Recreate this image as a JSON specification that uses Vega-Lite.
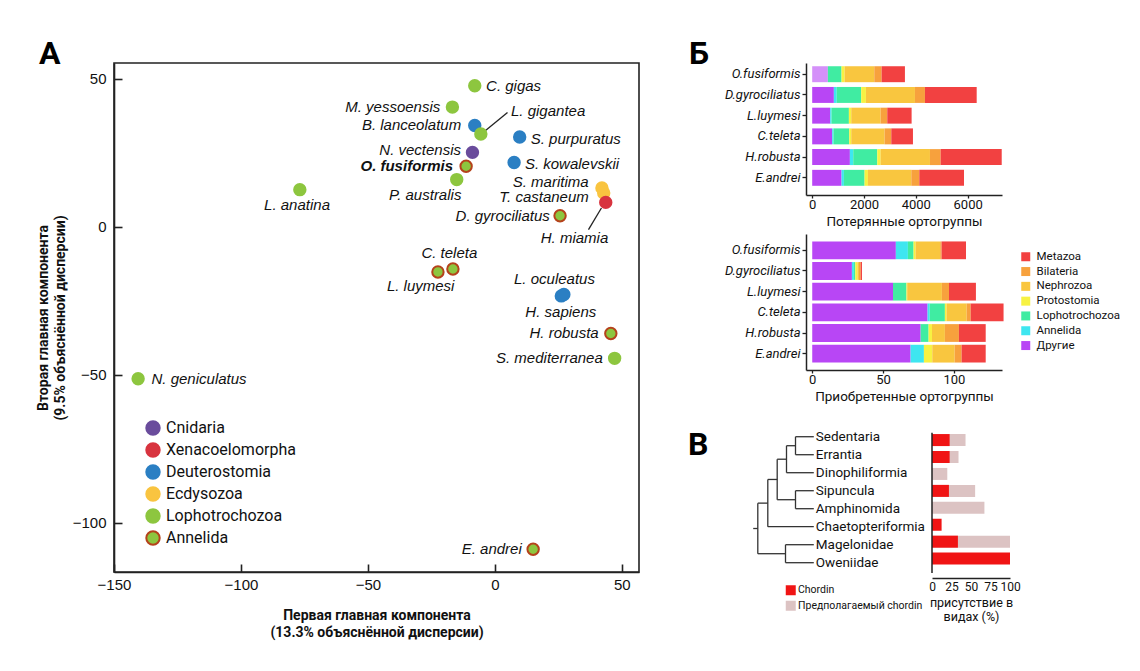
{
  "$schema": "https://vega.github.io/schema/vega-lite/v6.json",
  "background": "white",
  "padding": {"left": 35, "top": 37, "right": 5, "bottom": 5},
  "bounds": "flush",
  "spacing": 167,
  "config": {
    "view": {"stroke": null},
    "font": "Roboto",
    "axis": {"domainColor": "#222", "tickColor": "#222", "labelColor": "#111", "titleColor": "#111", "grid": false}
  },
  "resolve": {
    "scale": {"color": "independent", "fill": "independent", "stroke": "independent"},
    "legend": {"color": "independent", "fill": "independent", "stroke": "independent"}
  },
  "datasets": {
    "pca": [
      {"name": "C. gigas", "group": "Lophotrochozoa", "x": -7.9, "y": 47.6, "lx": 7.4, "ly": 47.6},
      {"name": "M. yessoensis", "group": "Lophotrochozoa", "x": -16.7, "y": 40.4, "lx": -40.2, "ly": 40.4},
      {"name": "B. lanceolatum", "group": "Deuterostomia", "x": -7.9, "y": 34.2, "lx": -32.8, "ly": 34.2},
      {"name": "L. gigantea", "group": "Lophotrochozoa", "x": -5.5, "y": 31.3, "lx": 21.0, "ly": 39.0},
      {"name": "S. purpuratus", "group": "Deuterostomia", "x": 9.8, "y": 30.3, "lx": 31.9, "ly": 29.6},
      {"name": "N. vectensis", "group": "Cnidaria", "x": -8.8, "y": 25.1, "lx": -29.4, "ly": 25.8},
      {"name": "S. kowalevskii", "group": "Deuterostomia", "x": 7.6, "y": 21.7, "lx": 30.4, "ly": 21.3},
      {"name": "O. fusiformis", "group": "Annelida", "x": -11.3, "y": 20.4, "lx": -34.7, "ly": 20.4},
      {"name": "P. australis", "group": "Lophotrochozoa", "x": -15.0, "y": 15.9, "lx": -27.4, "ly": 10.8},
      {"name": "S. maritima", "group": "Ecdysozoa", "x": 42.2, "y": 13.1, "lx": 22.0, "ly": 15.2},
      {"name": "T. castaneum", "group": "Ecdysozoa", "x": 42.9, "y": 11.4, "lx": 19.4, "ly": 10.0},
      {"name": "H. miamia", "group": "Xenacoelomorpha", "x": 43.7, "y": 8.2, "lx": 31.4, "ly": -3.8},
      {"name": "L. anatina", "group": "Lophotrochozoa", "x": -76.8, "y": 12.5, "lx": -77.9, "ly": 7.2},
      {"name": "D. gyrociliatus", "group": "Annelida", "x": 25.7, "y": 3.7, "lx": 3.1, "ly": 3.7},
      {"name": "C. teleta", "group": "Annelida", "x": -16.5, "y": -14.3, "lx": -17.9, "ly": -8.8},
      {"name": "L. luymesi", "group": "Annelida", "x": -22.4, "y": -15.3, "lx": -29.2, "ly": -20.1},
      {"name": "L. oculeatus", "group": "Deuterostomia", "x": 26.2, "y": -23.4, "lx": 23.5, "ly": -17.6},
      {"name": "H. sapiens", "group": "Deuterostomia", "x": 27.2, "y": -22.9, "lx": 26.0, "ly": -28.9},
      {"name": "H. robusta", "group": "Annelida", "x": 45.7, "y": -36.1, "lx": 27.3, "ly": -36.1},
      {"name": "S. mediterranea", "group": "Lophotrochozoa", "x": 47.2, "y": -44.5, "lx": 21.5, "ly": -44.5},
      {"name": "N. geniculatus", "group": "Lophotrochozoa", "x": -140.5, "y": -51.4, "lx": -116.5, "ly": -51.4},
      {"name": "E. andrei", "group": "Annelida", "x": 15.1, "y": -109.0, "lx": -1.2, "ly": -109.0}
    ],
    "leaders": [
      {"x": -4.0, "y": 32.2, "x2": 5.0, "y2": 38.6},
      {"x": 42.0, "y": 6.3, "x2": 36.9, "y2": -1.0}
    ],
    "lost": [
      {"sp": "O.fusiformis", "cat": "Другие", "level": 1, "n": 605},
      {"sp": "O.fusiformis", "cat": "Annelida", "level": 2, "n": 0},
      {"sp": "O.fusiformis", "cat": "Lophotrochozoa", "level": 3, "n": 528},
      {"sp": "O.fusiformis", "cat": "Protostomia", "level": 4, "n": 117},
      {"sp": "O.fusiformis", "cat": "Nephrozoa", "level": 5, "n": 1146},
      {"sp": "O.fusiformis", "cat": "Bilateria", "level": 6, "n": 284},
      {"sp": "O.fusiformis", "cat": "Metazoa", "level": 7, "n": 900},
      {"sp": "D.gyrociliatus", "cat": "Другие", "level": 1, "n": 837},
      {"sp": "D.gyrociliatus", "cat": "Annelida", "level": 2, "n": 110},
      {"sp": "D.gyrociliatus", "cat": "Lophotrochozoa", "level": 3, "n": 946},
      {"sp": "D.gyrociliatus", "cat": "Protostomia", "level": 4, "n": 181},
      {"sp": "D.gyrociliatus", "cat": "Nephrozoa", "level": 5, "n": 1893},
      {"sp": "D.gyrociliatus", "cat": "Bilateria", "level": 6, "n": 386},
      {"sp": "D.gyrociliatus", "cat": "Metazoa", "level": 7, "n": 1997},
      {"sp": "L.luymesi", "cat": "Другие", "level": 1, "n": 696},
      {"sp": "L.luymesi", "cat": "Annelida", "level": 2, "n": 51},
      {"sp": "L.luymesi", "cat": "Lophotrochozoa", "level": 3, "n": 670},
      {"sp": "L.luymesi", "cat": "Protostomia", "level": 4, "n": 90},
      {"sp": "L.luymesi", "cat": "Nephrozoa", "level": 5, "n": 1133},
      {"sp": "L.luymesi", "cat": "Bilateria", "level": 6, "n": 258},
      {"sp": "L.luymesi", "cat": "Metazoa", "level": 7, "n": 940},
      {"sp": "C.teleta", "cat": "Другие", "level": 1, "n": 773},
      {"sp": "C.teleta", "cat": "Annelida", "level": 2, "n": 51},
      {"sp": "C.teleta", "cat": "Lophotrochozoa", "level": 3, "n": 606},
      {"sp": "C.teleta", "cat": "Protostomia", "level": 4, "n": 77},
      {"sp": "C.teleta", "cat": "Nephrozoa", "level": 5, "n": 1288},
      {"sp": "C.teleta", "cat": "Bilateria", "level": 6, "n": 258},
      {"sp": "C.teleta", "cat": "Metazoa", "level": 7, "n": 837},
      {"sp": "H.robusta", "cat": "Другие", "level": 1, "n": 1455},
      {"sp": "H.robusta", "cat": "Annelida", "level": 2, "n": 129},
      {"sp": "H.robusta", "cat": "Lophotrochozoa", "level": 3, "n": 928},
      {"sp": "H.robusta", "cat": "Protostomia", "level": 4, "n": 128},
      {"sp": "H.robusta", "cat": "Nephrozoa", "level": 5, "n": 1906},
      {"sp": "H.robusta", "cat": "Bilateria", "level": 6, "n": 413},
      {"sp": "H.robusta", "cat": "Metazoa", "level": 7, "n": 2357},
      {"sp": "E.andrei", "cat": "Другие", "level": 1, "n": 1133},
      {"sp": "E.andrei", "cat": "Annelida", "level": 2, "n": 91},
      {"sp": "E.andrei", "cat": "Lophotrochozoa", "level": 3, "n": 798},
      {"sp": "E.andrei", "cat": "Protostomia", "level": 4, "n": 129},
      {"sp": "E.andrei", "cat": "Nephrozoa", "level": 5, "n": 1674},
      {"sp": "E.andrei", "cat": "Bilateria", "level": 6, "n": 309},
      {"sp": "E.andrei", "cat": "Metazoa", "level": 7, "n": 1726}
    ],
    "gained": [
      {"sp": "O.fusiformis", "cat": "Другие", "level": 1, "n": 59},
      {"sp": "O.fusiformis", "cat": "Annelida", "level": 2, "n": 8.5},
      {"sp": "O.fusiformis", "cat": "Lophotrochozoa", "level": 3, "n": 4},
      {"sp": "O.fusiformis", "cat": "Protostomia", "level": 4, "n": 1.4},
      {"sp": "O.fusiformis", "cat": "Nephrozoa", "level": 5, "n": 17.4},
      {"sp": "O.fusiformis", "cat": "Bilateria", "level": 6, "n": 1},
      {"sp": "O.fusiformis", "cat": "Metazoa", "level": 7, "n": 17.2},
      {"sp": "D.gyrociliatus", "cat": "Другие", "level": 1, "n": 28},
      {"sp": "D.gyrociliatus", "cat": "Annelida", "level": 2, "n": 1.4},
      {"sp": "D.gyrociliatus", "cat": "Lophotrochozoa", "level": 3, "n": 1},
      {"sp": "D.gyrociliatus", "cat": "Protostomia", "level": 4, "n": 1.5},
      {"sp": "D.gyrociliatus", "cat": "Nephrozoa", "level": 5, "n": 1.1},
      {"sp": "D.gyrociliatus", "cat": "Bilateria", "level": 6, "n": 1.2},
      {"sp": "D.gyrociliatus", "cat": "Metazoa", "level": 7, "n": 0.9},
      {"sp": "L.luymesi", "cat": "Другие", "level": 1, "n": 57},
      {"sp": "L.luymesi", "cat": "Annelida", "level": 2, "n": 0},
      {"sp": "L.luymesi", "cat": "Lophotrochozoa", "level": 3, "n": 9.5},
      {"sp": "L.luymesi", "cat": "Protostomia", "level": 4, "n": 0.5},
      {"sp": "L.luymesi", "cat": "Nephrozoa", "level": 5, "n": 24.5},
      {"sp": "L.luymesi", "cat": "Bilateria", "level": 6, "n": 5},
      {"sp": "L.luymesi", "cat": "Metazoa", "level": 7, "n": 19},
      {"sp": "C.teleta", "cat": "Другие", "level": 1, "n": 81.4},
      {"sp": "C.teleta", "cat": "Annelida", "level": 2, "n": 1.5},
      {"sp": "C.teleta", "cat": "Lophotrochozoa", "level": 3, "n": 10.7},
      {"sp": "C.teleta", "cat": "Protostomia", "level": 4, "n": 1.2},
      {"sp": "C.teleta", "cat": "Nephrozoa", "level": 5, "n": 14.2},
      {"sp": "C.teleta", "cat": "Bilateria", "level": 6, "n": 2.8},
      {"sp": "C.teleta", "cat": "Metazoa", "level": 7, "n": 23.2},
      {"sp": "H.robusta", "cat": "Другие", "level": 1, "n": 76.5},
      {"sp": "H.robusta", "cat": "Annelida", "level": 2, "n": 0},
      {"sp": "H.robusta", "cat": "Lophotrochozoa", "level": 3, "n": 5.6},
      {"sp": "H.robusta", "cat": "Protostomia", "level": 4, "n": 2.4},
      {"sp": "H.robusta", "cat": "Nephrozoa", "level": 5, "n": 9.1},
      {"sp": "H.robusta", "cat": "Bilateria", "level": 6, "n": 9.9},
      {"sp": "H.robusta", "cat": "Metazoa", "level": 7, "n": 18.9},
      {"sp": "E.andrei", "cat": "Другие", "level": 1, "n": 69.4},
      {"sp": "E.andrei", "cat": "Annelida", "level": 2, "n": 9.4},
      {"sp": "E.andrei", "cat": "Lophotrochozoa", "level": 3, "n": 0},
      {"sp": "E.andrei", "cat": "Protostomia", "level": 4, "n": 5.9},
      {"sp": "E.andrei", "cat": "Nephrozoa", "level": 5, "n": 15.8},
      {"sp": "E.andrei", "cat": "Bilateria", "level": 6, "n": 4.9},
      {"sp": "E.andrei", "cat": "Metazoa", "level": 7, "n": 17}
    ],
    "tree": [
      {"x": 42.3, "y": 0, "x2": 60.6, "y2": 0},
      {"x": 42.3, "y": 1, "x2": 60.6, "y2": 1},
      {"x": 42.3, "y": 0, "x2": 42.3, "y2": 1},
      {"x": 33.3, "y": 0.5, "x2": 42.3, "y2": 0.5},
      {"x": 33.3, "y": 2, "x2": 60.6, "y2": 2},
      {"x": 33.3, "y": 0.5, "x2": 33.3, "y2": 2},
      {"x": 24, "y": 1.25, "x2": 33.3, "y2": 1.25},
      {"x": 42.3, "y": 3, "x2": 60.6, "y2": 3},
      {"x": 42.3, "y": 4, "x2": 60.6, "y2": 4},
      {"x": 42.3, "y": 3, "x2": 42.3, "y2": 4},
      {"x": 24, "y": 3.5, "x2": 42.3, "y2": 3.5},
      {"x": 24, "y": 1.25, "x2": 24, "y2": 3.5},
      {"x": 14.6, "y": 2.375, "x2": 24, "y2": 2.375},
      {"x": 14.6, "y": 5, "x2": 60.6, "y2": 5},
      {"x": 14.6, "y": 2.375, "x2": 14.6, "y2": 5},
      {"x": 4.6, "y": 3.69, "x2": 14.6, "y2": 3.69},
      {"x": 32.3, "y": 6, "x2": 60.6, "y2": 6},
      {"x": 32.3, "y": 7, "x2": 60.6, "y2": 7},
      {"x": 32.3, "y": 6, "x2": 32.3, "y2": 7},
      {"x": 4.6, "y": 6.5, "x2": 32.3, "y2": 6.5},
      {"x": 4.6, "y": 3.69, "x2": 4.6, "y2": 6.5},
      {"x": 0, "y": 5.1, "x2": 4.6, "y2": 5.1}
    ],
    "clades": [
      {"clade": "Sedentaria", "idx": 0},
      {"clade": "Errantia", "idx": 1},
      {"clade": "Dinophiliformia", "idx": 2},
      {"clade": "Sipuncula", "idx": 3},
      {"clade": "Amphinomida", "idx": 4},
      {"clade": "Chaetopteriformia", "idx": 5},
      {"clade": "Magelonidae", "idx": 6},
      {"clade": "Oweniidae", "idx": 7}
    ],
    "chordin": [
      {"clade": "Sedentaria", "idx": 0, "type": "Предполагаемый chordin", "v": 43},
      {"clade": "Errantia", "idx": 1, "type": "Предполагаемый chordin", "v": 34},
      {"clade": "Dinophiliformia", "idx": 2, "type": "Предполагаемый chordin", "v": 19.6},
      {"clade": "Sipuncula", "idx": 3, "type": "Предполагаемый chordin", "v": 55.3},
      {"clade": "Amphinomida", "idx": 4, "type": "Предполагаемый chordin", "v": 67.2},
      {"clade": "Magelonidae", "idx": 6, "type": "Предполагаемый chordin", "v": 100},
      {"clade": "Sedentaria", "idx": 0, "type": "Chordin", "v": 22.6},
      {"clade": "Errantia", "idx": 1, "type": "Chordin", "v": 22.6},
      {"clade": "Sipuncula", "idx": 3, "type": "Chordin", "v": 21.7},
      {"clade": "Chaetopteriformia", "idx": 5, "type": "Chordin", "v": 12.3},
      {"clade": "Magelonidae", "idx": 6, "type": "Chordin", "v": 33.2},
      {"clade": "Oweniidae", "idx": 7, "type": "Chordin", "v": 100}
    ]
  },
  "hconcat": [
    {
      "width": 525,
      "height": 509,
      "view": {"stroke": "#222", "strokeWidth": 1.6},
      "title": {"text": "A", "anchor": "start", "frame": "group", "font": "Roboto", "fontSize": 32, "fontWeight": "bold", "color": "#000", "baseline": "alphabetic", "offset": 0, "dx": -75, "dy": 33},
      "layer": [
        {
          "data": {"name": "leaders"},
          "mark": {"type": "rule", "color": "#222", "strokeWidth": 1.3},
          "encoding": {
            "x": {"field": "x", "type": "quantitative", "scale": {"domain": [-150, 56.8], "nice": false, "zero": false},
              "axis": {"values": [-150, -100, -50, 0, 50], "tickSize": -8, "tickWidth": 1.6, "domainWidth": 1.6, "labelFont": "Liberation Sans", "labelFontSize": 15, "labelPadding": 13, "labelFlush": false, "title": ["Первая главная компонента", "(13.3% объяснённой дисперсии)"], "titleFont": "Roboto", "titleFontSize": 14, "titleFontWeight": "bold", "titleLineHeight": 17, "titlePadding": 16}},
            "y": {"field": "y", "type": "quantitative", "scale": {"domain": [-116.7, 55.3], "nice": false, "zero": false},
              "axis": {"values": [-100, -50, 0, 50], "tickSize": -8, "tickWidth": 1.6, "domainWidth": 1.6, "labelFont": "Liberation Sans", "labelFontSize": 15, "labelPadding": 16, "labelFlush": false, "title": ["Вторая главная компонента", "(9.5% объяснённой дисперсии)"], "titleFont": "Roboto", "titleFontSize": 14, "titleFontWeight": "bold", "titleLineHeight": 17, "titlePadding": 5}},
            "x2": {"field": "x2"},
            "y2": {"field": "y2"}
          }
        },
        {
          "data": {"name": "pca"},
          "mark": {"type": "circle", "size": 130, "strokeWidth": 2, "opacity": 1},
          "encoding": {
            "x": {"field": "x", "type": "quantitative", "scale": {"domain": [-150, 56.8], "nice": false, "zero": false},
              "axis": {"values": [-150, -100, -50, 0, 50], "tickSize": -8, "tickWidth": 1.6, "domainWidth": 1.6, "labelFont": "Liberation Sans", "labelFontSize": 15, "labelPadding": 13, "labelFlush": false, "title": ["Первая главная компонента", "(13.3% объяснённой дисперсии)"], "titleFont": "Roboto", "titleFontSize": 14, "titleFontWeight": "bold", "titleLineHeight": 17, "titlePadding": 16}},
            "y": {"field": "y", "type": "quantitative", "scale": {"domain": [-116.7, 55.3], "nice": false, "zero": false},
              "axis": {"values": [-100, -50, 0, 50], "tickSize": -8, "tickWidth": 1.6, "domainWidth": 1.6, "labelFont": "Liberation Sans", "labelFontSize": 15, "labelPadding": 16, "labelFlush": false, "title": ["Вторая главная компонента", "(9.5% объяснённой дисперсии)"], "titleFont": "Roboto", "titleFontSize": 14, "titleFontWeight": "bold", "titleLineHeight": 17, "titlePadding": 5}},
            "fill": {"field": "group", "type": "nominal",
              "scale": {"domain": ["Cnidaria", "Xenacoelomorpha", "Deuterostomia", "Ecdysozoa", "Lophotrochozoa", "Annelida"], "range": ["#6a4c9c", "#d8343f", "#2b7fc3", "#f9c440", "#8dc63f", "#8dc63f"]},
              "legend": {"orient": "none", "legendX": 31, "legendY": 357, "title": null, "symbolType": "circle", "symbolSize": 180, "symbolStrokeWidth": 2, "labelFont": "Roboto", "labelFontSize": 16, "labelColor": "#111", "rowPadding": 0, "labelOffset": 5, "padding": 0}},
            "stroke": {"field": "group", "type": "nominal",
              "scale": {"domain": ["Cnidaria", "Xenacoelomorpha", "Deuterostomia", "Ecdysozoa", "Lophotrochozoa", "Annelida"], "range": ["#6a4c9c", "#d8343f", "#2b7fc3", "#f9c440", "#8dc63f", "#b5421b"]},
              "legend": {"orient": "none", "legendX": 31, "legendY": 357, "title": null, "symbolType": "circle", "symbolSize": 180, "symbolStrokeWidth": 2, "labelFont": "Roboto", "labelFontSize": 16, "labelColor": "#111", "rowPadding": 0, "labelOffset": 5, "padding": 0}}
          }
        },
        {
          "data": {"name": "pca"},
          "transform": [{"filter": "datum.name !== 'O. fusiformis'"}],
          "mark": {"type": "text", "font": "Liberation Sans", "fontSize": 15, "fontStyle": "italic", "align": "center", "baseline": "middle", "color": "#111"},
          "encoding": {
            "x": {"field": "lx", "type": "quantitative", "scale": {"domain": [-150, 56.8], "nice": false, "zero": false},
              "axis": {"values": [-150, -100, -50, 0, 50], "tickSize": -8, "tickWidth": 1.6, "domainWidth": 1.6, "labelFont": "Liberation Sans", "labelFontSize": 15, "labelPadding": 13, "labelFlush": false, "title": ["Первая главная компонента", "(13.3% объяснённой дисперсии)"], "titleFont": "Roboto", "titleFontSize": 14, "titleFontWeight": "bold", "titleLineHeight": 17, "titlePadding": 16}},
            "y": {"field": "ly", "type": "quantitative", "scale": {"domain": [-116.7, 55.3], "nice": false, "zero": false},
              "axis": {"values": [-100, -50, 0, 50], "tickSize": -8, "tickWidth": 1.6, "domainWidth": 1.6, "labelFont": "Liberation Sans", "labelFontSize": 15, "labelPadding": 16, "labelFlush": false, "title": ["Вторая главная компонента", "(9.5% объяснённой дисперсии)"], "titleFont": "Roboto", "titleFontSize": 14, "titleFontWeight": "bold", "titleLineHeight": 17, "titlePadding": 5}},
            "text": {"field": "name", "type": "nominal"}
          }
        },
        {
          "data": {"name": "pca"},
          "transform": [{"filter": "datum.name === 'O. fusiformis'"}],
          "mark": {"type": "text", "font": "Liberation Sans", "fontSize": 15, "fontStyle": "italic", "fontWeight": "bold", "align": "center", "baseline": "middle", "color": "#111"},
          "encoding": {
            "x": {"field": "lx", "type": "quantitative", "scale": {"domain": [-150, 56.8], "nice": false, "zero": false},
              "axis": {"values": [-150, -100, -50, 0, 50], "tickSize": -8, "tickWidth": 1.6, "domainWidth": 1.6, "labelFont": "Liberation Sans", "labelFontSize": 15, "labelPadding": 13, "labelFlush": false, "title": ["Первая главная компонента", "(13.3% объяснённой дисперсии)"], "titleFont": "Roboto", "titleFontSize": 14, "titleFontWeight": "bold", "titleLineHeight": 17, "titlePadding": 16}},
            "y": {"field": "ly", "type": "quantitative", "scale": {"domain": [-116.7, 55.3], "nice": false, "zero": false},
              "axis": {"values": [-100, -50, 0, 50], "tickSize": -8, "tickWidth": 1.6, "domainWidth": 1.6, "labelFont": "Liberation Sans", "labelFontSize": 15, "labelPadding": 16, "labelFlush": false, "title": ["Вторая главная компонента", "(9.5% объяснённой дисперсии)"], "titleFont": "Roboto", "titleFontSize": 14, "titleFontWeight": "bold", "titleLineHeight": 17, "titlePadding": 5}},
            "text": {"field": "name", "type": "nominal"}
          }
        }
      ]
    },
    {
      "vconcat": [
        {
          "width": 196,
          "height": 132,
          "title": {"text": "Б", "anchor": "start", "frame": "group", "font": "Roboto", "fontSize": 32, "fontWeight": "bold", "color": "#000", "baseline": "alphabetic", "offset": 0, "dx": -117, "dy": 33},
          "data": {"name": "lost"},
          "mark": {"type": "bar"},
          "encoding": {
            "y": {"field": "sp", "type": "nominal", "sort": ["O.fusiformis", "D.gyrociliatus", "L.luymesi", "C.teleta", "H.robusta", "E.andrei"],
              "scale": {"paddingInner": 0.23, "paddingOuter": 0.3, "align": 0.26},
              "axis": {"title": null, "labelFont": "Roboto", "labelFontSize": 13, "labelFontStyle": "italic", "labelColor": "#111", "tickSize": 4, "tickWidth": 1.3, "domainWidth": 1.5, "labelPadding": 2}},
            "x": {"field": "n", "type": "quantitative", "stack": "zero", "scale": {"domain": [-239, 7327], "nice": false, "zero": false},
              "axis": {"values": [0, 2000, 4000, 6000], "format": "d", "tickSize": 3, "tickWidth": 1.3, "domainWidth": 1.5, "labelFont": "Roboto", "labelFontSize": 13, "labelPadding": 0, "labelFlush": false, "title": "Потерянные ортогруппы", "titleFont": "Roboto", "titleFontSize": 13.5, "titleFontWeight": "normal", "titlePadding": 3}},
            "color": {"field": "cat", "type": "nominal",
              "scale": {"domain": ["Metazoa", "Bilateria", "Nephrozoa", "Protostomia", "Lophotrochozoa", "Annelida", "Другие"], "range": ["#f24141", "#f7a13d", "#f9c63f", "#f7f242", "#40eca2", "#3ee6f0", "#b846f5"]},
              "legend": null},
            "order": {"field": "level", "type": "quantitative"},
            "opacity": {"condition": {"test": "datum.sp === 'O.fusiformis' && datum.cat === 'Другие'", "value": 0.6}, "value": 1}
          }
        },
        {
          "width": 196,
          "height": 136,
          "data": {"name": "gained"},
          "mark": {"type": "bar"},
          "encoding": {
            "y": {"field": "sp", "type": "nominal", "sort": ["O.fusiformis", "D.gyrociliatus", "L.luymesi", "C.teleta", "H.robusta", "E.andrei"],
              "scale": {"paddingInner": 0.14, "paddingOuter": 0.36},
              "axis": {"title": null, "labelFont": "Roboto", "labelFontSize": 13, "labelFontStyle": "italic", "labelColor": "#111", "tickSize": 4, "tickWidth": 1.3, "domainWidth": 1.5, "labelPadding": 2}},
            "x": {"field": "n", "type": "quantitative", "stack": "zero", "scale": {"domain": [-4.4, 133.9], "nice": false, "zero": false},
              "axis": {"values": [0, 50, 100], "format": "d", "tickSize": 3, "tickWidth": 1.3, "domainWidth": 1.5, "labelFont": "Roboto", "labelFontSize": 13, "labelPadding": 0, "labelFlush": false, "title": "Приобретенные ортогруппы", "titleFont": "Roboto", "titleFontSize": 13.5, "titleFontWeight": "normal", "titlePadding": 3}},
            "color": {"field": "cat", "type": "nominal",
              "scale": {"domain": ["Metazoa", "Bilateria", "Nephrozoa", "Protostomia", "Lophotrochozoa", "Annelida", "Другие"], "range": ["#f24141", "#f7a13d", "#f9c63f", "#f7f242", "#40eca2", "#3ee6f0", "#b846f5"]},
              "legend": {"orient": "none", "legendX": 214, "legendY": 17, "title": null, "symbolType": "square", "symbolSize": 81, "symbolStrokeWidth": 0, "labelFont": "Roboto", "labelFontSize": 11.5, "labelColor": "#111", "rowPadding": 1.8, "labelOffset": 5, "padding": 0}},
            "order": {"field": "level", "type": "quantitative"}
          }
        },
        {
          "hconcat": [
            {
              "width": 123.5,
              "height": 169,
              "title": {"text": "В", "anchor": "start", "frame": "group", "font": "Roboto", "fontSize": 32, "fontWeight": "bold", "color": "#000", "baseline": "alphabetic", "offset": 0, "dx": -118, "dy": 78},
              "layer": [
                {
                  "data": {"name": "tree"},
                  "mark": {"type": "rule", "color": "#333", "strokeWidth": 1.3},
                  "encoding": {
                    "x": {"field": "x", "type": "quantitative", "scale": {"domain": [52.8, 176.3], "nice": false, "zero": false}, "axis": null},
                    "x2": {"field": "x2"},
                    "y": {"field": "y", "type": "quantitative", "scale": {"domain": [-1.54, 7.85], "nice": false, "zero": false, "reverse": true}, "axis": null},
                    "y2": {"field": "y2"}
                  }
                },
                {
                  "data": {"name": "clades"},
                  "mark": {"type": "text", "align": "left", "baseline": "middle", "dx": 2, "font": "Roboto", "fontSize": 13.5, "color": "#111"},
                  "encoding": {
                    "x": {"datum": 60.6, "type": "quantitative", "scale": {"domain": [52.8, 176.3], "nice": false, "zero": false}, "axis": null},
                    "y": {"field": "idx", "type": "quantitative", "scale": {"domain": [-1.54, 7.85], "nice": false, "zero": false, "reverse": true}, "axis": null},
                    "text": {"field": "clade", "type": "nominal"}
                  }
                }
              ]
            },
            {
              "width": 78,
              "height": 169,
              "layer": [
                {
                  "data": {"name": "chordin"},
                  "mark": {"type": "bar", "height": 12},
                  "encoding": {
                    "y": {"field": "idx", "type": "quantitative", "scale": {"domain": [-1.54, 7.85], "nice": false, "zero": false, "reverse": true}, "axis": null},
                    "x": {"field": "v", "type": "quantitative", "scale": {"domain": [0, 100], "nice": false},
                      "axis": {"values": [0, 25, 50, 75, 100], "ticks": false, "domainWidth": 1.5, "labelFont": "Roboto", "labelFontSize": 12, "labelPadding": 3, "labelFlush": false, "labelOverlap": false, "labelBound": false, "title": ["присутствие в", "видах (%)"], "titleFont": "Roboto", "titleFontSize": 12.5, "titleFontWeight": "normal", "titleLineHeight": 14, "titlePadding": 4}},
                    "x2": {"datum": 0},
                    "color": {"field": "type", "type": "nominal",
                      "scale": {"domain": ["Chordin", "Предполагаемый chordin"], "range": ["#f01414", "#dcc3c3"]},
                      "legend": {"orient": "none", "legendX": -20.5, "legendY": 176, "title": null, "symbolType": "square", "symbolSize": 100, "symbolStrokeWidth": 0, "labelFont": "Roboto", "labelFontSize": 10.5, "labelColor": "#111", "rowPadding": 4.5, "labelOffset": 2, "padding": 0}}
                  }
                },
                {
                  "data": {"values": [{}]},
                  "mark": {"type": "rule", "color": "#222", "strokeWidth": 1.5},
                  "encoding": {
                    "x": {"datum": 0, "type": "quantitative", "scale": {"domain": [0, 100], "nice": false},
                      "axis": {"values": [0, 25, 50, 75, 100], "ticks": false, "domainWidth": 1.5, "labelFont": "Roboto", "labelFontSize": 12, "labelPadding": 3, "labelFlush": false, "labelOverlap": false, "labelBound": false, "title": ["присутствие в", "видах (%)"], "titleFont": "Roboto", "titleFontSize": 12.5, "titleFontWeight": "normal", "titleLineHeight": 14, "titlePadding": 4}},
                    "y": {"datum": -0.43, "type": "quantitative", "scale": {"domain": [-1.54, 7.85], "nice": false, "zero": false, "reverse": true}, "axis": null},
                    "y2": {"datum": 7.85}
                  }
                }
              ]
            }
          ],
          "spacing": 2,
          "bounds": "flush"
        }
      ],
      "spacing": 39,
      "bounds": "flush",
      "resolve": {"scale": {"color": "independent"}, "legend": {"color": "independent"}}
    }
  ]
}
